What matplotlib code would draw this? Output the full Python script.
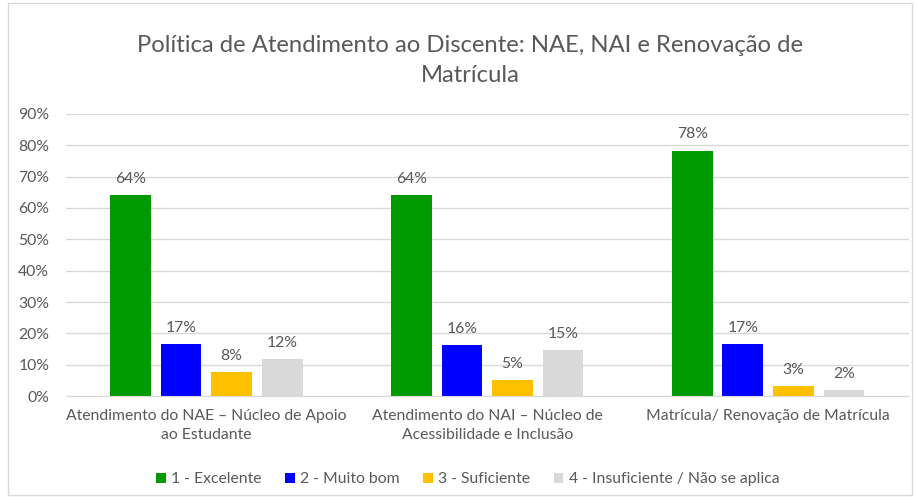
import matplotlib.pyplot as plt
import numpy as np
from matplotlib.patches import Rectangle

plt.rcParams["font.family"] = ["Lato", "DejaVu Sans"]

categories = [
    "Atendimento do NAE – Núcleo de Apoio\nao Estudante",
    "Atendimento do NAI – Núcleo de\nAcessibilidade e Inclusão",
    "Matrícula/ Renovação de Matrícula",
]
series_names = [
    "1 - Excelente",
    "2 - Muito bom",
    "3 - Suficiente",
    "4 - Insuficiente / Não se aplica",
]
excelente = [0.640, 0.640, 0.783]
muito_bom = [0.166, 0.163, 0.166]
suficiente = [0.077, 0.051, 0.032]
insuficiente = [0.118, 0.147, 0.019]
colors = ["#009900", "#0000FF", "#FFC000", "#D9D9D9"]

title = "Política de Atendimento ao Discente: NAE, NAI e Renovação de\nMatrícula"

fig = plt.figure(figsize=(9.15, 4.97), dpi=100)
ax = fig.add_axes([0.072, 0.203, 0.921, 0.568])

x = np.arange(len(categories))
step = 0.18
width = 0.145
text_color = "#595959"
grid_color = "#D9D9D9"
fs = 11.3

for i, (vals, name, c) in enumerate(zip([excelente, muito_bom, suficiente, insuficiente], series_names, colors)):
    pos = x + (i - 1.5) * step
    bars = ax.bar(pos, vals, width=width, color=c, label=name, zorder=3)
    for b, v in zip(bars, vals):
        ax.text(b.get_x() + b.get_width() / 2, v + 0.03, f"{v * 100:.0f}%",
                ha="center", va="bottom", fontsize=fs, color=text_color)

ax.set_xlim(-0.5, 2.5)
ax.set_ylim(0, 0.9)
ax.set_yticks(np.arange(0, 0.91, 0.1))
ax.set_yticklabels([f"{int(round(t * 100))}%" for t in np.arange(0, 0.91, 0.1)])
ax.set_xticks(x)
ax.set_xticklabels(categories, linespacing=1.45)
ax.tick_params(axis="both", length=0, labelsize=fs, colors=text_color)
ax.tick_params(axis="y", pad=12)
ax.tick_params(axis="x", pad=9)
ax.grid(axis="y", color=grid_color, linewidth=1, zorder=0)
for s in ["top", "right", "left"]:
    ax.spines[s].set_visible(False)
ax.spines["bottom"].set_color(grid_color)
ax.spines["bottom"].set_zorder(4)

fig.suptitle(title, x=0.514, y=0.93, fontsize=17.2, color=text_color, linespacing=1.55)

ax.legend(loc="upper center", bbox_to_anchor=(0.477, -0.22), ncol=4, frameon=False,
          fontsize=fs, labelcolor=text_color, handlelength=0.6, handleheight=0.6,
          handletextpad=0.35, columnspacing=1.5)

fig.patches.append(Rectangle((0.009, 0.004), 0.988, 0.99, transform=fig.transFigure,
                             fill=False, edgecolor=grid_color, linewidth=1))

fig.savefig("out.png", dpi=100)
